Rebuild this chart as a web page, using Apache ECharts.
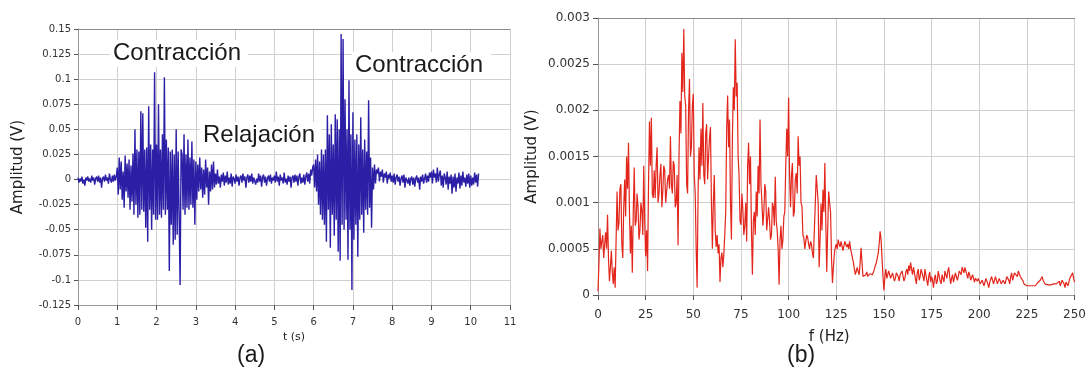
<!DOCTYPE html>
<html>
<head>
<meta charset="utf-8">
<title>EMG</title>
<script src="https://cdn.jsdelivr.net/npm/echarts@6/dist/echarts.min.js"></script>
<style>
html, body { margin: 0; padding: 0; background: #fff; }
#emg { width: 1089px; height: 369px; }
</style>
</head>
<body>
<div id="emg"></div>
<script>
// (a) señal EMG en el tiempo: una muestra cada dtSenal segundos, desde t = 0
const dtSenal = 0.025;
const senal = [
  0.002,-0.003,0.001,-0.002,0.003,-0.004,0.000,-0.006,0.002,-0.001,0.003,-0.002,0.001,-0.003,0.004,-0.001,0.002,-0.005,0.001,0.003,
  -0.002,0.004,-0.003,0.002,-0.008,0.001,0.003,-0.002,0.005,-0.001,0.002,-0.004,0.006,0.000,-0.003,0.004,-0.002,0.005,-0.001,0.003,
  0.012,-0.015,0.022,-0.010,0.018,-0.020,0.008,-0.028,0.024,-0.012,0.016,-0.018,0.020,-0.030,0.014,-0.022,0.026,-0.035,0.050,-0.025,
  0.030,-0.038,0.028,-0.035,0.068,-0.030,0.066,-0.032,0.030,-0.048,0.032,-0.062,0.073,-0.030,0.035,-0.050,0.030,-0.035,0.107,-0.040,
  0.035,-0.040,0.075,-0.035,0.030,-0.038,0.045,-0.030,0.102,-0.035,0.040,-0.030,0.032,-0.091,0.028,-0.045,0.030,-0.065,0.025,-0.060,
  0.050,-0.055,0.028,-0.035,-0.105,0.030,0.025,-0.030,0.045,-0.035,0.025,-0.028,0.040,-0.030,0.022,-0.025,0.038,-0.028,0.020,-0.045,
  0.018,-0.020,0.015,-0.012,0.022,-0.010,0.012,-0.018,0.010,-0.015,0.020,-0.008,0.012,-0.025,0.008,-0.012,0.015,-0.010,0.018,-0.008,
  0.006,-0.005,0.010,-0.004,0.003,-0.008,0.005,-0.002,0.007,-0.006,0.004,-0.003,0.008,-0.005,0.002,-0.004,0.006,-0.007,0.003,0.001,
  -0.004,0.005,-0.002,0.003,-0.006,0.002,0.004,-0.003,0.006,-0.001,0.003,-0.008,0.002,0.005,-0.003,0.004,-0.002,0.006,-0.004,0.002,
  0.003,-0.005,0.001,-0.003,0.006,-0.002,0.004,-0.007,0.002,0.005,-0.003,0.003,-0.006,0.001,0.004,-0.002,0.005,-0.004,0.002,-0.001,
  0.004,-0.003,0.008,-0.002,0.003,-0.006,0.005,-0.001,0.002,-0.004,0.007,-0.003,0.001,-0.005,0.004,-0.002,0.003,-0.008,0.002,0.004,
  -0.003,0.005,-0.002,0.004,-0.006,0.003,0.006,-0.004,0.002,-0.003,0.005,-0.005,0.003,0.007,-0.002,0.006,-0.004,0.010,0.004,0.012,
  0.015,-0.008,0.020,-0.012,0.025,-0.025,0.018,-0.035,0.030,-0.040,0.025,-0.045,0.030,-0.062,0.064,-0.030,0.045,-0.068,0.055,-0.035,
  0.035,-0.056,0.065,-0.040,0.060,-0.072,0.050,-0.081,0.145,-0.045,0.140,-0.050,0.080,-0.040,0.050,-0.080,0.099,-0.050,0.045,-0.110,
  0.067,-0.060,0.040,-0.045,0.045,-0.077,0.035,-0.040,0.062,-0.035,0.030,-0.053,0.040,-0.030,0.028,-0.035,0.079,-0.028,0.022,-0.048,
  0.012,-0.010,0.015,-0.004,0.010,0.006,0.012,-0.002,0.008,0.003,0.010,-0.003,0.006,0.002,0.008,-0.004,0.005,0.001,0.007,-0.002,
  0.004,-0.003,0.006,-0.005,0.002,0.005,-0.002,0.003,-0.006,0.001,0.004,-0.003,0.005,-0.008,0.002,0.003,-0.004,0.002,-0.006,0.001,
  0.003,-0.005,0.002,-0.007,0.001,0.004,-0.003,0.002,-0.010,0.003,-0.002,0.005,-0.004,0.001,0.006,-0.003,0.004,-0.002,0.007,0.002,
  0.008,-0.004,0.010,0.002,0.006,-0.003,0.012,-0.002,0.005,0.009,-0.006,0.004,-0.008,0.006,0.002,-0.005,0.008,-0.010,0.003,-0.004,
  0.005,-0.014,0.003,-0.008,0.006,-0.012,0.002,-0.004,0.007,-0.009,0.004,-0.006,0.008,-0.003,0.002,-0.007,0.005,-0.004,0.006,-0.008,
  0.004,-0.006,0.002,-0.005,0.007,-0.003,0.005,-0.007,0.006
];

// (b) espectro de amplitud: un valor cada dfEspectro Hz, desde 0 Hz
const dfEspectro = 0.5;
const espectro = [
  0.00004,0.00035,0.00072,0.00050,0.00058,0.00065,0.00040,0.00055,0.00068,0.00050,0.00087,0.00040,0.00015,0.00030,0.00048,0.00025,0.00012,0.00030,0.00008,0.00060,
  0.00112,0.00070,0.00078,0.00115,0.00120,0.00055,0.00040,0.00095,0.00125,0.00085,0.00150,0.00115,0.00165,0.00090,0.00045,0.00075,0.00024,0.00090,0.00138,0.00075,
  0.00080,0.00110,0.00095,0.00060,0.00070,0.00100,0.00092,0.00065,0.00140,0.00080,0.00042,0.00070,0.00026,0.00120,0.00188,0.00140,0.00192,0.00110,0.00105,0.00135,
  0.00105,0.00140,0.00160,0.00100,0.00110,0.00130,0.00142,0.00095,0.00112,0.00140,0.00135,0.00100,0.00100,0.00125,0.00130,0.00115,0.00172,0.00120,0.00110,0.00145,
  0.00140,0.00095,0.00100,0.00130,0.00054,0.00150,0.00210,0.00175,0.00262,0.00220,0.00288,0.00215,0.00205,0.00120,0.00110,0.00200,0.00234,0.00150,0.00160,0.00205,
  0.00218,0.00130,0.00110,0.00050,0.00008,0.00110,0.00160,0.00125,0.00180,0.00140,0.00208,0.00130,0.00120,0.00175,0.00185,0.00125,0.00150,0.00170,0.00182,0.00100,
  0.00050,0.00100,0.00130,0.00070,0.00052,0.00065,0.00045,0.00055,0.00014,0.00040,0.00046,0.00030,0.00044,0.00065,0.00090,0.00180,0.00216,0.00160,0.00190,0.00100,
  0.00060,0.00170,0.00225,0.00200,0.00277,0.00215,0.00230,0.00150,0.00130,0.00080,0.00076,0.00110,0.00092,0.00065,0.00075,0.00100,0.00058,0.00140,0.00165,0.00120,
  0.00150,0.00070,0.00022,0.00080,0.00090,0.00065,0.00112,0.00085,0.00140,0.00110,0.00190,0.00120,0.00100,0.00075,0.00090,0.00120,0.00112,0.00070,0.00070,0.00095,
  0.00080,0.00060,0.00065,0.00100,0.00095,0.00075,0.00128,0.00080,0.00070,0.00050,0.00011,0.00060,0.00075,0.00050,0.00060,0.00085,0.00090,0.00140,0.00180,0.00150,
  0.00214,0.00130,0.00095,0.00130,0.00143,0.00085,0.00090,0.00125,0.00132,0.00110,0.00172,0.00140,0.00150,0.00100,0.00096,0.00065,0.00062,0.00050,0.00058,0.00065,
  0.00062,0.00055,0.00050,0.00058,0.00055,0.00045,0.00040,0.00042,0.00038,0.00130,0.00130,0.00100,0.00030,0.00060,0.00099,0.00070,0.00114,0.00090,0.00143,0.00080,
  0.00025,0.00070,0.00112,0.00100,0.00090,0.00040,0.00013,0.00030,0.00045,0.00052,0.00055,0.00050,0.00060,0.00055,0.00052,0.00058,0.00058,0.00048,0.00050,0.00058,
  0.00060,0.00052,0.00055,0.00050,0.00058,0.00050,0.00045,0.00040,0.00035,0.00028,0.00022,0.00026,0.00030,0.00025,0.00022,0.00035,0.00051,0.00035,0.00020,0.00022,
  0.00018,0.00022,0.00025,0.00020,0.00020,0.00023,0.00024,0.00021,0.00022,0.00025,0.00028,0.00032,0.00035,0.00040,0.00045,0.00055,0.00069,0.00060,0.00040,0.00020,
  0.00005,0.00020,0.00028,0.00018,0.00020,0.00026,0.00025,0.00018,0.00016,0.00024,0.00022,0.00015,0.00018,0.00024,0.00026,0.00020,0.00015,0.00022,0.00020,0.00026,
  0.00024,0.00015,0.00018,0.00025,0.00028,0.00022,0.00032,0.00026,0.00035,0.00028,0.00022,0.00030,0.00030,0.00018,0.00012,0.00024,0.00028,0.00016,0.00020,0.00028,
  0.00030,0.00020,0.00015,0.00028,0.00026,0.00016,0.00010,0.00020,0.00025,0.00014,0.00020,0.00016,0.00008,0.00018,0.00022,0.00012,0.00015,0.00026,0.00025,0.00015,
  0.00012,0.00022,0.00020,0.00014,0.00026,0.00022,0.00018,0.00026,0.00030,0.00020,0.00012,0.00018,0.00022,0.00014,0.00016,0.00024,0.00024,0.00016,0.00020,0.00026,
  0.00026,0.00022,0.00030,0.00032,0.00024,0.00030,0.00028,0.00022,0.00018,0.00025,0.00022,0.00016,0.00016,0.00022,0.00020,0.00014,0.00018,0.00020,0.00015,0.00018,
  0.00016,0.00012,0.00010,0.00016,0.00014,0.00010,0.00012,0.00018,0.00018,0.00012,0.00008,0.00014,0.00016,0.00020,0.00022,0.00012,0.00010,0.00020,0.00018,0.00012,
  0.00012,0.00018,0.00020,0.00012,0.00010,0.00016,0.00018,0.00012,0.00016,0.00020,0.00022,0.00016,0.00012,0.00020,0.00024,0.00016,0.00018,0.00024,0.00026,0.00022,
  0.00020,0.00026,0.00024,0.00020,0.00018,0.00020,0.00015,0.00012,0.00012,0.00010,0.00010,0.00011,0.00010,0.00010,0.00011,0.00012,0.00010,0.00011,0.00012,0.00010,
  0.00010,0.00013,0.00012,0.00014,0.00016,0.00018,0.00020,0.00016,0.00014,0.00012,0.00012,0.00010,0.00011,0.00012,0.00013,0.00011,0.00010,0.00012,0.00012,0.00014,
  0.00014,0.00012,0.00010,0.00014,0.00015,0.00010,0.00012,0.00016,0.00018,0.00012,0.00008,0.00014,0.00016,0.00010,0.00012,0.00018,0.00020,0.00016,0.00024,0.00018,
  0.00014
];

// textos del gráfico
const etiquetasA = ["Contracción", "Relajación", "Contracción"];
const ejeY = "Amplitud (V)";

const puntosSenal = senal.map((v, i) => [+(i * dtSenal).toFixed(3), v]);
const puntosEspectro = espectro.map((v, i) => [i * dfEspectro, v]);

const fuenteEje = "DejaVu Sans";
const fuenteTexto = "Liberation Sans";
const colorGrilla = "#d0d0d0";

function numero(v) {
  return String(+v.toFixed(4));
}

let chart = echarts.init(document.getElementById("emg"));

let option = {
  animation: false,
  backgroundColor: "#fff",
  grid: [
    { left: 78, top: 29, width: 432, height: 276 },
    { left: 598, top: 18, width: 480, height: 277 }
  ],
  xAxis: [
    {
      gridIndex: 0,
      type: "value",
      min: 0,
      max: 11,
      interval: 1,
      name: "t (s)",
      nameLocation: "middle",
      nameGap: 26,
      nameTextStyle: { fontFamily: fuenteEje, fontSize: 11, color: "#222" },
      axisLine: { onZero: false, lineStyle: { color: "#999" } },
      axisTick: { length: 5, lineStyle: { color: "#555" } },
      axisLabel: { fontFamily: fuenteEje, fontSize: 10, color: "#333", margin: 12 },
      splitLine: { lineStyle: { color: colorGrilla } }
    },
    {
      gridIndex: 1,
      type: "value",
      min: 0,
      max: 250,
      interval: 25,
      name: "f (Hz)",
      nameLocation: "middle",
      nameGap: 35,
      nameTextStyle: {
        fontFamily: fuenteEje,
        fontSize: 15,
        color: "#222",
        padding: [0, 14, 0, 0]
      },
      axisLine: { onZero: false, lineStyle: { color: "#999" } },
      axisTick: { length: 5, lineStyle: { color: "#555" } },
      axisLabel: { fontFamily: fuenteEje, fontSize: 12, color: "#333", margin: 14 },
      splitLine: { lineStyle: { color: colorGrilla } }
    },
    // bordes superiores
    {
      gridIndex: 0, type: "value", position: "top", min: 0, max: 11,
      axisLine: { show: true, onZero: false, lineStyle: { color: "#8a8a8a" } },
      axisTick: { show: false }, axisLabel: { show: false }, splitLine: { show: false }
    },
    {
      gridIndex: 1, type: "value", position: "top", min: 0, max: 250,
      axisLine: { show: true, onZero: false, lineStyle: { color: "#8a8a8a" } },
      axisTick: { show: false }, axisLabel: { show: false }, splitLine: { show: false }
    }
  ],
  yAxis: [
    {
      gridIndex: 0,
      type: "value",
      min: -0.125,
      max: 0.15,
      interval: 0.025,
      name: ejeY,
      nameLocation: "middle",
      nameGap: 52,
      nameTextStyle: { fontFamily: fuenteEje, fontSize: 15, color: "#222" },
      axisLine: { show: true, onZero: false, lineStyle: { color: "#999" } },
      axisTick: { show: true, length: 4, lineStyle: { color: "#555" } },
      axisLabel: { fontFamily: fuenteEje, fontSize: 10, color: "#333", margin: 7, formatter: numero },
      splitLine: { lineStyle: { color: colorGrilla } }
    },
    {
      gridIndex: 1,
      type: "value",
      min: 0,
      max: 0.003,
      interval: 0.0005,
      name: ejeY,
      nameLocation: "middle",
      nameGap: 58,
      nameTextStyle: { fontFamily: fuenteEje, fontSize: 15, color: "#222" },
      axisLine: { show: true, onZero: false, lineStyle: { color: "#999" } },
      axisTick: { show: true, length: 5, lineStyle: { color: "#555" } },
      axisLabel: { fontFamily: fuenteEje, fontSize: 12, color: "#333", margin: 8, formatter: numero },
      splitLine: { lineStyle: { color: colorGrilla } }
    }
  ],
  graphic: [
    { type: "rect", z: 1, shape: { x: 110, y: 40, width: 138, height: 27 }, style: { fill: "#fff" } },
    { type: "rect", z: 1, shape: { x: 200, y: 122, width: 121, height: 27 }, style: { fill: "#fff" } },
    { type: "rect", z: 1, shape: { x: 352, y: 52, width: 139, height: 27 }, style: { fill: "#fff" } },
    {
      type: "text", z: 1, x: 113, y: 53,
      style: { text: etiquetasA[0], font: '24px "' + fuenteTexto + '"', fill: "#1a1a1a", textVerticalAlign: "middle" }
    },
    {
      type: "text", z: 1, x: 203, y: 135,
      style: { text: etiquetasA[1], font: '24px "' + fuenteTexto + '"', fill: "#1a1a1a", textVerticalAlign: "middle" }
    },
    {
      type: "text", z: 1, x: 355, y: 65,
      style: { text: etiquetasA[2], font: '24px "' + fuenteTexto + '"', fill: "#1a1a1a", textVerticalAlign: "middle" }
    },
    {
      type: "text", z: 1, x: 237, y: 356,
      style: { text: "(a)", font: '23px "' + fuenteTexto + '"', fill: "#1a1a1a", textVerticalAlign: "middle" }
    },
    {
      type: "text", z: 1, x: 787, y: 356,
      style: { text: "(b)", font: '23px "' + fuenteTexto + '"', fill: "#1a1a1a", textVerticalAlign: "middle" }
    }
  ],
  series: [
    {
      type: "line",
      xAxisIndex: 0,
      yAxisIndex: 0,
      data: puntosSenal,
      showSymbol: false,
      z: 3,
      lineStyle: { color: "#2b1fa6", width: 1.4 }
    },
    {
      type: "line",
      xAxisIndex: 1,
      yAxisIndex: 1,
      data: puntosEspectro,
      showSymbol: false,
      z: 3,
      lineStyle: { color: "#e3261c", width: 1.2 }
    }
  ]
};

chart.setOption(option);
</script>
</body>
</html>
